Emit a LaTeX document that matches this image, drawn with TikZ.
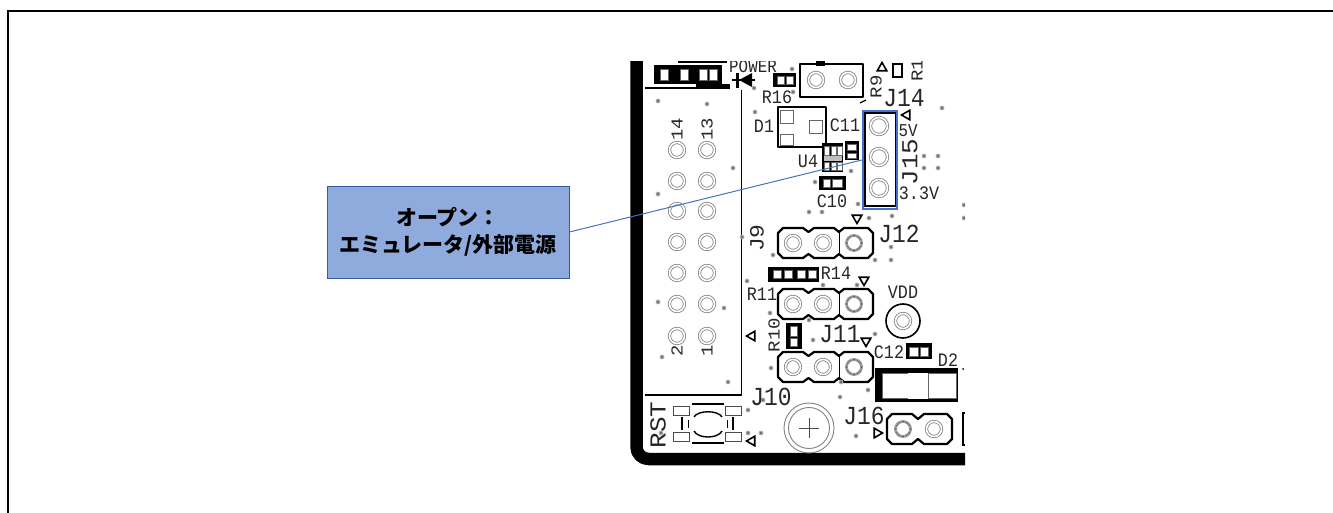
\documentclass[tikz,border=0pt]{standalone}
\usepackage{fontspec}
\usetikzlibrary{shapes.geometric}
\newfontfamily\cjkfont{Noto Sans CJK JP}
\newfontfamily\silkfont{Liberation Mono}
\definecolor{calloutfill}{HTML}{8FAADC}
\definecolor{calloutedge}{HTML}{4472C4}
\definecolor{padgray}{HTML}{808080}

\begin{document}
\begin{tikzpicture}[
    x=1pt,
    y=-1pt,
    silk/.style={
        inner sep=0pt,
        xscale=0.88,
        font=\silkfont\fontsize{#1}{#1}\selectfont,
        text=black!85,
    },
    silk/.default=19,
    pad/.style={
        circle,
        inner sep=0pt,
        minimum size=#1,
        draw=padgray,
        line width=0.8pt,
        double=white,
        double distance=1.6pt,
    },
    pad/.default=13,
    firstpad/.style={
        pad=15,
        double distance=1pt,
        postaction={draw=black!70,line width=0.6pt},
    },
    via/.style={
        circle,
        inner sep=0pt,
        minimum size=4pt,
        fill=black!55,
        draw=black!30,
        line width=0.8pt,
    },
    mark/.style={},
    pointer/.style={
        regular polygon,
        regular polygon sides=3,
        inner sep=0pt,
        minimum size=11pt,
        draw=black,
        line width=1.6pt,
        shape border rotate=#1,
    },
    outline/.style={
        draw=black,
        line width=2.2pt,
        line join=round,
        fill=white,
    },
    chip/.style={
        fill=black,
    },
    land/.style={
        fill=white,
        draw=black!60,
        line width=0.3pt,
    },
    pics/jumperthree/.style={
        code={
            \draw[outline] (-15,-10) -- (-10,-15) -- (10,-15) -- (15.5,-11) -- (21,-15) -- (41,-15) -- (46,-11) -- (51,-15) -- (75,-15) -- (80,-10)
                -- (80,10) -- (75,15) -- (51,15) -- (46,11) -- (41,15) -- (21,15) -- (15.5,11) -- (10,15) -- (-10,15) -- (-15,10) -- cycle;
            \draw[draw=black,line width=0.8pt] (46,-11) -- (46,11);
        },
    },
    pics/jumpertwo/.style={
        code={
            \draw[outline] (-16,-10) -- (-11,-15) -- (9,-15) -- (15,-10) -- (21,-15) -- (44,-15) -- (49,-10)
                -- (49,10) -- (44,15) -- (21,15) -- (15,10) -- (9,15) -- (-11,15) -- (-16,10) -- cycle;
        },
    },
]
    \useasboundingbox (0,0) rectangle (1333,513);

    % frame of the slide
    \draw[black,line width=1.5pt] (8,513) -- (8,11) -- (1333,11);

    \begin{scope}
        \clip (630,62) rectangle (965,467);

        % board edge
        \draw[black,line width=12.5pt,line join=round,rounded corners=12pt] (636.5,55) -- (636.5,459) -- (975,459);

        % 14 pin header
        \draw[black,line width=2pt] (645,88) -- (730,88);
        \draw[black,line width=1.6pt] (741.5,90) -- (741.5,395);
        \draw[black,line width=2.4pt] (645,395) -- (742,395);
        \foreach \y [count=\r] in {150,181,211,242,273,304,336} {
            \node[pad=15] (pina\r) at (677,\y) {};
            \node[pad=15] (pinb\r) at (707,\y) {};
        }

        % parts along the top
        \fill[chip] (654,65) rectangle (722,84);
        \foreach \x in {660,680,699,709} {
            \draw[land] (\x,69) rectangle +(8,11);
        }
        \fill[chip] (678,58) rectangle (727,63);
        \fill[chip] (696,84) rectangle (730,87);
        \draw[black,line width=1.5pt] (732,80) -- (755,80);
        \draw[black,line width=3pt] (737,73) -- (737,88);
        \fill[black] (739,80) -- (752,73) -- (752,87) -- cycle;
        \fill[chip] (773,73) rectangle (796,87);
        \foreach \x in {777,786} {
            \draw[land] (\x,76) rectangle +(7,8);
        }
        \draw[outline] (800,64) rectangle (863,97);
        \fill[chip] (816,60) rectangle (825,66);
        \node[pad=15] (testa) at (816,80) {};
        \node[pad=15] (testb) at (848,80) {};
        \draw[black,line width=1.2pt] (860,103) -- (866,100);
        \draw[black,line width=2.2pt] (893,64) rectangle (902,77);

        % diode and regulator
        \draw[outline] (778,107) rectangle (826,147);
        \draw[land] (780,110) rectangle (793,123);
        \draw[land] (780,134) rectangle (793,145);
        \draw[land] (809,120) rectangle (822,133);
        \fill[chip] (822,143) rectangle (843,172);
        \foreach \x in {824,831,837} {
            \draw[land] (\x,146) rectangle +(5.5,9);
            \draw[land] (\x,162) rectangle +(5.5,8);
        }
        \fill[black!25] (824,156) rectangle (842,161);
        \fill[chip] (845,141) rectangle (859,160);
        \draw[land] (847.5,144) rectangle (856.5,150);
        \draw[land] (847.5,153) rectangle (856.5,158);
        \fill[chip] (819,176) rectangle (846,190);
        \draw[land] (823,179) rectangle (830,187);
        \draw[land] (832,179) rectangle (842,187);

        % jumper with the leader
        \draw[black,line width=2pt] (865,113) rectangle (896,206);
        \node[pad=17] (jumpa) at (879,126) {};
        \node[pad=17] (jumpb) at (879,157) {};
        \node[pad=17] (jumpc) at (879,188) {};

        % headers
        \foreach \y [count=\r] in {243,304,367} {
            \pic at (793,\y) {jumperthree};
            \node[pad=15] (heada\r) at (793,\y) {};
            \node[pad=15] (headb\r) at (823,\y) {};
            \node[firstpad] (headc\r) at (854,\y) {};
        }
        \pic at (903,429) {jumpertwo};
        \node[firstpad] (heada4) at (903,429) {};
        \node[pad=15] (headb4) at (934,429) {};
        \draw[black,line width=1.5pt] (965,413) -- (963,413) -- (963,445) -- (965,445);

        % small parts below
        \fill[chip] (768,267) rectangle (819,282);
        \foreach \x in {773,784,797,808} {
            \draw[land] (\x,270) rectangle +(8.5,8);
        }
        \fill[chip] (786,323) rectangle (802,349);
        \draw[land] (790,326) rectangle (797.5,336);
        \draw[land] (790,338) rectangle (797.5,346);
        \fill[chip] (906,343) rectangle (932,359);
        \draw[land] (909.5,347) rectangle (918.5,356);
        \draw[land] (920,347) rectangle (928.5,356);
        \fill[chip] (875,368) rectangle (958,402);
        \draw[land] (882,373) rectangle (908,398);
        \fill[white] (908,373) rectangle (928,399);
        \draw[black,line width=0.4pt] (908,399) -- (928,399);
        \draw[land] (928,373) rectangle (956,398);
        \fill[black] (963,369) circle (1pt);

        % test point and mounting hole
        \draw[black,line width=1.6pt] (903,321) circle (17);
        \node[pad=15] (vdd) at (903,321) {};
        \draw[padgray,line width=0.9pt] (809,428) circle (25);
        \draw[padgray,line width=0.9pt] (809,428) circle (20.5);
        \draw[black!70,line width=0.6pt] (799,428) -- (819,428) (809,418) -- (809,438);

        % reset switch
        \foreach \x/\y in {673/406,725/406,673/432,725/432} {
            \draw[black!70,line width=0.7pt,fill=white] (\x,\y) rectangle +(16.5,9.5);
        }
        \draw[black,line width=2pt] (692,404) -- (724,404) (692,443) -- (724,443);
        \draw[black,line width=1.4pt] (694,417) .. controls (698,410) and (718,410) .. (722,417);
        \draw[black,line width=1.4pt] (694,431) .. controls (698,439) and (718,439) .. (722,431);
        \draw[black,line width=2pt] (682,417) -- (682,430) (733,417) -- (733,430);
        \draw[black,line width=0.8pt] (688,420) -- (688,428) (727,420) -- (727,428);

        % vias
        \foreach \x/\y [count=\i] in {658/101,707/104,755/112,792/69,793/92,754/88,733/168,658/194,742/237,815/182,851/171,858/204,809/212,822/212,869/218,892/216,773/255,891/247,875/260,891/260,942/108,924/156,938/156,924/168,938/168,964/205,964/218,747/281,823/285,857/285,658/302,724/308,770/313,809/320,813/340,875/334,662/357,771/368,728/382,841/382,868/390,840/397,763/400,748/410,661/433,748/433,761/433,856/436} {
            \node[via] (via\i) at (\x,\y) {};
        }

        % pin one arrows
        \node[pointer=0] (arrowa) at (882,68) {};
        \node[pointer=90] (arrowb) at (907,115) {};
        \node[pointer=180] (arrowc) at (857,218) {};
        \node[pointer=180] (arrowd) at (864,280) {};
        \node[pointer=180] (arrowe) at (866,341) {};
        \node[pointer=90] (arrowf) at (752,336) {};
        \node[pointer=-90] (arrowg) at (877,433) {};
        \node[pointer=90] (arrowh) at (752,441) {};

        % silk labels
        \node[silk=18] (power) at (753,67) {POWER};
        \node[silk] (r16) at (777,97) {R16};
        \node[silk,rotate=90] (r9) at (876,87) {R9};
        \node[silk,rotate=90] (r1) at (917,70) {R1};
        \node[silk=26] (j14) at (904,98) {J14};
        \node[silk] (d1) at (764,126) {D1};
        \node[silk] (c11) at (845,125) {C11};
        \node[silk] (u4) at (808,161) {U4};
        \node[silk] (c10) at (832,201) {C10};
        \node[silk=18] (five) at (908,131) {5V};
        \node[silk] (three) at (919,193) {3.3V};
        \node[silk=26,rotate=90] (j15) at (910,162) {J15};
        \node[silk,rotate=90] (num14) at (677,129) {14};
        \node[silk,rotate=90] (num13) at (707,129) {13};
        \node[silk=23,rotate=90] (j9) at (757,238) {J9};
        \node[silk=26] (j12) at (899,234) {J12};
        \node[silk] (r14) at (836,273) {R14};
        \node[silk] (r11) at (762,294) {R11};
        \node[silk] (vddtext) at (903,292) {VDD};
        \node[silk,rotate=90] (r10) at (774,335) {R10};
        \node[silk=26] (j11) at (840,334) {J11};
        \node[silk] (c12) at (889,352) {C12};
        \node[silk] (d2) at (948,360) {D2};
        \node[silk=26] (j10) at (771,397) {J10};
        \node[silk=26,rotate=90] (rst) at (658,425) {RST};
        \node[silk=26] (j16) at (864,416) {J16};
        \node[silk,rotate=90] (num2) at (677,351) {2};
        \node[silk,rotate=90] (num1) at (707,351) {1};
    \end{scope}

    \node[inner sep=0pt,rectangle,minimum width=34.5pt,minimum height=98pt,draw=calloutedge,line width=2pt] (jumper) at (880,160) {};

    \node[inner sep=0pt,rectangle,minimum width=242pt,minimum height=92pt,fill=calloutfill,draw=calloutedge!80!black,line width=0.8pt,align=center,font=\cjkfont\fontsize{21}{27}\selectfont\bfseries] (callout) at (448,232) {オープン：\\エミュレータ/外部電源};

    \draw[calloutedge,line width=1pt] (callout.east) -- (jumper.west);
\end{tikzpicture}
\end{document}
